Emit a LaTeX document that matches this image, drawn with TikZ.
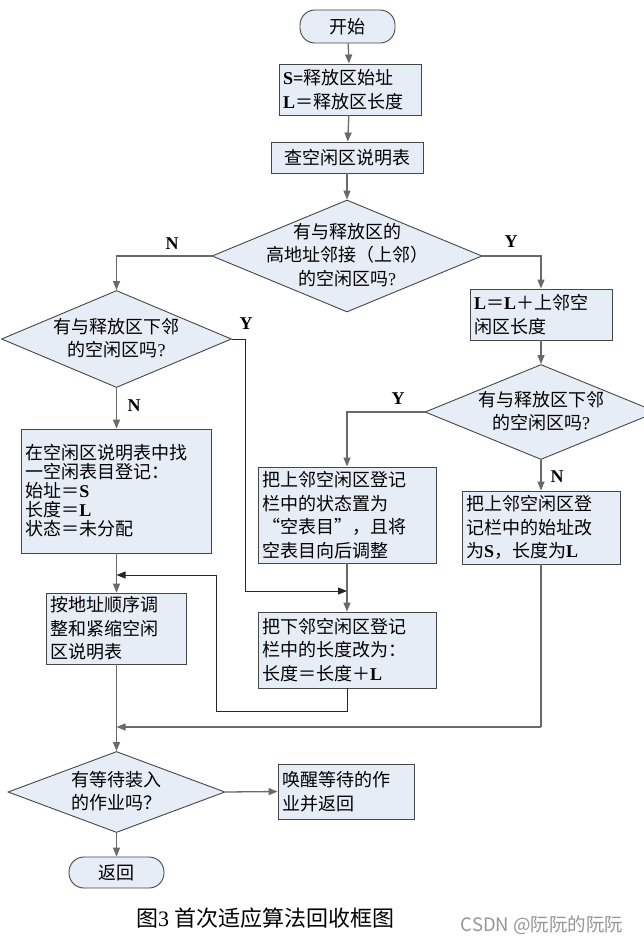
\documentclass[tikz,border=0pt]{standalone}
\usepackage{fontspec}
\setmainfont{Noto Sans CJK SC}
\newfontfamily\latfont{Liberation Serif}
\usetikzlibrary{shapes.geometric,arrows.meta}
\definecolor{boxfill}{RGB}{231,237,247}
\definecolor{boxline}{RGB}{70,70,70}
\definecolor{conncol}{RGB}{105,105,105}
\definecolor{wmcol}{RGB}{150,150,150}
\newcommand\latw[1]{{\latfont\bfseries #1}}
\begin{document}
\begin{tikzpicture}[x=1pt,y=-1pt,
  txt/.style={font=\fontsize{18}{23.5}\selectfont},
  box/.style={draw=boxline, fill=boxfill, line width=0.9pt, inner xsep=4pt, inner ysep=2pt, align=left, txt},
  tightbox/.style={box, font=\fontsize{18}{19}\selectfont},
  dia/.style={diamond, draw=boxline, fill=boxfill, line width=0.9pt, inner sep=0pt},
  dtext/.style={align=center, txt, inner sep=0pt},
  term/.style={draw=boxline, fill=boxfill, line width=0.9pt, rounded corners=15pt, txt, inner sep=0pt},
  conn/.style={draw=conncol, line width=1.3pt, -{Triangle[length=9pt,width=7pt]}},
  thinconn/.style={draw=black!85, line width=0.8pt, -{Triangle[length=9pt,width=7pt]}},
  thinline/.style={draw=black!85, line width=0.8pt},
  yn/.style={font=\latfont\bfseries\fontsize{18}{18}\selectfont, inner sep=0pt}
]
\useasboundingbox[fill=white] (0,0) rectangle (643,943);

% nodes
\node[term, minimum width=95pt, minimum height=33pt] (start) at (347.5,26.5) {开始};
\node[box, minimum width=142pt, text width=134pt, minimum height=51pt] (b1) at (350,89.5)
  {\latw{S=}释放区始址\\\latw{L}＝释放区长度};
\node[box, minimum width=152pt, minimum height=31pt, align=center] (b2) at (347,157.5) {查空闲区说明表};
\node[dia, minimum width=270pt, minimum height=112pt] (d1) at (347,256) {};
\node[dtext] (d1t) at (347,255) {有与释放区的\\高地址邻接（上邻）\\的空闲区吗{\latfont ?}};

\node[dia, minimum width=230pt, minimum height=97pt] (d2) at (116.5,339) {};
\node[dtext] (d2t) at (116.5,338) {有与释放区下邻\\的空闲区吗{\latfont ?}};

\node[box, minimum width=142pt, text width=134pt, minimum height=51pt] (b3) at (541,314.5)
  {\latw{L}＝\latw{L}＋上邻空\\闲区长度};
\node[dia, minimum width=232pt, minimum height=95pt] (d3) at (541,412) {};
\node[dtext] (d3t) at (541,411) {有与释放区下邻\\的空闲区吗{\latfont ?}};

\node[tightbox, minimum width=190pt, text width=182pt, minimum height=124pt] (b4) at (116.5,491)
  {在空闲区说明表中找\\一空闲表目登记：\\始址＝\latw{S}\\长度＝\latw{L}\\状态＝未分配};
\node[box, minimum width=140pt, text width=132pt, minimum height=71pt] (b5) at (116.5,628.5)
  {按地址顺序调\\整和紧缩空闲\\区说明表};
\node[box, minimum width=178pt, text width=170pt, minimum height=96pt] (b6) at (347,515)
  {把上邻空闲区登记\\栏中的状态置为\\“空表目”，且将\\空表目向后调整};
\node[box, minimum width=178pt, text width=170pt, minimum height=76pt] (b7) at (347,650)
  {把下邻空闲区登记\\栏中的长度改为：\\长度＝长度＋\latw{L}};
\node[box, minimum width=158pt, text width=150pt, minimum height=73pt] (b8) at (541,527.5)
  {把上邻空闲区登\\记栏中的始址改\\为\latw{S}，长度为\latw{L}};

\node[dia, minimum width=217pt, minimum height=81pt] (d4) at (116.5,792) {};
\node[dtext] (d4t) at (116.5,791) {有等待装入\\的作业吗？};
\node[box, minimum width=136pt, text width=128pt, minimum height=55pt] (b9) at (346,791.5)
  {唤醒等待的作\\业并返回};
\node[term, minimum width=95pt, minimum height=31pt] (end) at (116.5,872.5) {返回};

% labels
\node[yn] (ln1) at (172,244) {N};
\node[yn] (ly1) at (511,242) {Y};
\node[yn] (ly2) at (246,324) {Y};
\node[yn] (ln2) at (134,406) {N};
\node[yn] (ly3) at (398,399) {Y};
\node[yn] (ln3) at (557,477) {N};

% coordinates
\coordinate (j1) at (347,591);
\coordinate (y2bend) at (245,591);
\coordinate (lp1) at (347,711);
\coordinate (lp2) at (216,575);
\coordinate (j2) at (116.5,575);
\coordinate (rb) at (541,727);
\coordinate (j3) at (116.5,727);

% connectors
\draw[conn] (start) -- (b1);
\draw[conn] (b1) -- (b2);
\draw[conn] (b2) -- (d1);
\draw[conn] (d1.west) -| (d2.north);
\draw[conn] (d1.east) -| (b3.north);
\draw[conn] (b3) -- (d3);
\draw[conn] (d3.west) -| (b6.north);
\draw[conn] (d3.south) -- (b8.north);
\draw[conn] (d2.south) -- (b4.north);
\draw[thinconn] (d2.east) -| (y2bend) -- (j1);
\draw[conn] (b6) -- (b7);
\draw[conn] (b4) -- (b5);
\draw[thinline] (b7.south) -- (lp1) -| (lp2);
\draw[thinconn] (lp2) -- (j2);
\draw[conn] (b5.south) -- (d4.north);
\draw[conn, -] (b8.south) -- (rb);
\draw[conn] (rb) -- (j3);
\draw[conn] (d4.east) -- (b9.west);
\draw[conn] (d4.south) -- (end.north);

% caption
\node[font=\fontsize{22}{22}\selectfont, inner sep=0pt] (cap) at (265,918) {图{\latfont 3}\hspace{5pt}首次适应算法回收框图};
\node[font=\fontsize{18.5}{18.5}\selectfont, text=wmcol, inner sep=0pt] (wm) at (542,925) {CSDN @阮阮的阮阮};
\end{tikzpicture}
\end{document}
